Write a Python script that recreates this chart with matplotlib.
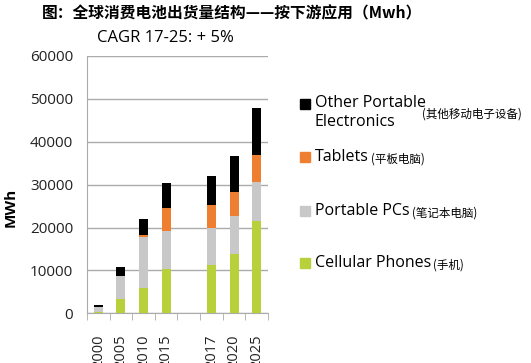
import numpy as np
import matplotlib
matplotlib.use("Agg")
import matplotlib.pyplot as plt
from matplotlib.patches import Rectangle

plt.rcParams['font.family'] = ['Open Sans', 'Noto Sans CJK SC', 'DejaVu Sans']

# data (blank slot between 2015 and 2017)
years = ['2000', '2005', '2010', '2015', '', '2017', '2020', '2025']
cellular = [300, 3300, 5800, 10300, 0, 11300, 13900, 21500]
portable_pcs = [1200, 5300, 11950, 8900, 0, 8500, 8800, 9200]
tablets = [0, 0, 400, 5400, 0, 5400, 5500, 6100]
other = [400, 2100, 3800, 5700, 0, 6800, 8400, 11000]

series = [
    (cellular, '#B8D03A', 'Cellular Phones', '(手机)'),
    (portable_pcs, '#C8C8C8', 'Portable PCs', '(笔记本电脑)'),
    (tablets, '#EF7F30', 'Tablets', '(平板电脑)'),
    (other, '#000000', 'Other Portable\nElectronics', '(其他移动电子设备)'),
]

W, H = 531, 363
fig = plt.figure(figsize=(W / 100, H / 100), dpi=100)
ax = fig.add_axes([87 / W, 1 - 313.3 / H, 181 / W, (313.3 - 56) / H])

x = np.arange(len(years))
bottom = np.zeros(len(years))
for vals, col, _, _ in series:
    v = np.array(vals, dtype=float)
    ax.bar(x, v, 0.4, bottom=bottom, color=col, zorder=3)
    bottom += v

ax.set_xlim(-0.5, len(years) - 0.5)
ax.set_ylim(0, 60000)
ax.set_yticks(np.arange(0, 60001, 10000))
ax.grid(axis='y', color='#ABABAB', linewidth=1, zorder=0)
for s in ['top', 'right']:
    ax.spines[s].set_visible(False)
ax.spines['left'].set_color('#ABABAB')
ax.spines['bottom'].set_color('#ABABAB')
ax.tick_params(axis='y', length=0, pad=10, labelsize=11, labelcolor='#222222')
ax.set_xticks(x)
ax.set_xticklabels(years, rotation=90, fontsize=10.5, color='#222222')
ax.tick_params(axis='x', which='major', length=0, pad=15)
ax.set_xticks(np.arange(-0.5, len(years)), minor=True)
ax.tick_params(axis='x', which='minor', length=5, color='#ABABAB', direction='out')

fig.text(232 / W, 1 - 13 / H, '图：全球消费电池出货量结构——按下游应用（Mwh）',
         ha='center', va='center', fontsize=11.3, fontweight='bold',
         family=['Noto Sans CJK SC', 'DejaVu Sans'])
fig.text(97 / W, 1 - 38 / H, 'CAGR 17-25: + 5%', ha='left', va='center', fontsize=12)
fig.text(11 / W, 1 - 207 / H, 'MWh', rotation=90, ha='center', va='center',
         fontsize=11, fontweight='bold')

# manual legend
leg_y = [263, 211, 157, 104]
for (vals, col, name, cn), y in zip(series, leg_y):
    fig.patches.append(Rectangle((300 / W, 1 - (y + 5) / H), 10 / W, 10 / H,
                                 color=col, transform=fig.transFigure))
    t = fig.text(315 / W, 1 - y / H, name, ha='left', va='center',
                 fontsize=11.5, linespacing=1.25)
    if '\n' in name:
        t.set_y(1 - (y + 9) / H)
        fig.text(422 / W, 1 - (y + 10) / H, cn, ha='left', va='center', fontsize=8.3,
                 family=['Noto Sans CJK SC'])
    else:
        fig.canvas.draw()
        bb = t.get_window_extent()
        fig.text(bb.x1 / W + 2 / W, 1 - (y + 2) / H, cn, ha='left', va='center',
                 fontsize=8.3, family=['Noto Sans CJK SC'])

fig.savefig('out.png', dpi=100)
